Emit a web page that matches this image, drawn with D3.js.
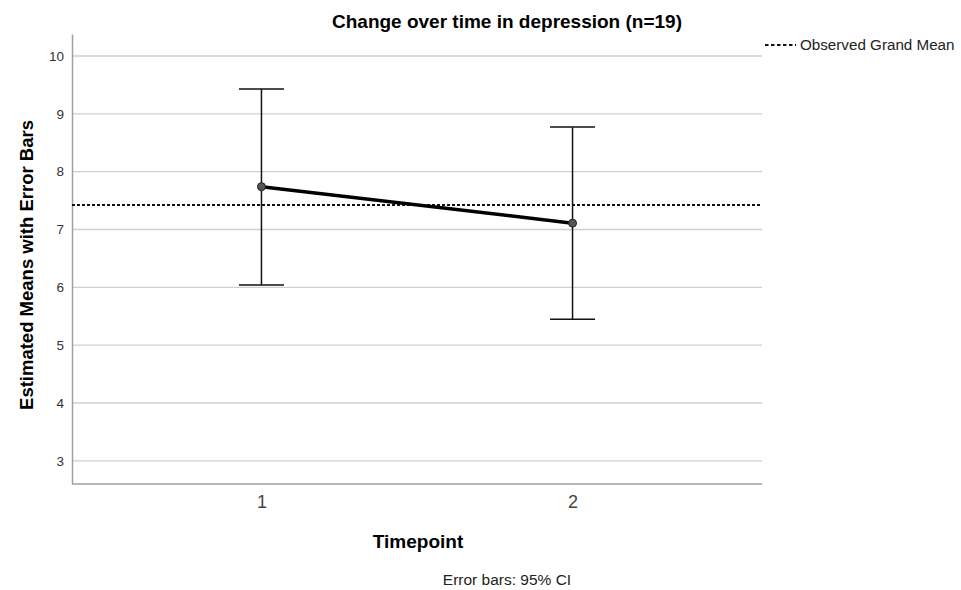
<!DOCTYPE html>
<html><head><meta charset="utf-8">
<script src="https://cdn.jsdelivr.net/npm/d3@7/dist/d3.min.js"></script>
<style>body{margin:0;background:#fff;font-family:"Liberation Sans",Arial,sans-serif;}</style>
</head><body><div id="chart"></div>
<script>
const categories = ["1", "2"];
const means = [7.74, 7.11];
const ciLower = [6.04, 5.45];
const ciUpper = [9.43, 8.77];
const grandMean = 7.425;
const yTicks = [3, 4, 5, 6, 7, 8, 9, 10];

const W = 961, H = 590;
const pLeft = 72, pRight = 762, pTop = 34, pBottom = 484;
const FF = "Liberation Sans, Arial, sans-serif";
const svg = d3.select("#chart").append("svg").attr("width", W).attr("height", H)
  .style("font-family", FF);

const y = d3.scaleLinear().domain([2.6, 10.38]).range([pBottom, pTop]);
const x = d3.scalePoint().domain(categories).range([pLeft, pRight]).padding(0.609);

// gridlines
svg.append("g").selectAll("line").data(yTicks).join("line")
  .attr("x1", pLeft).attr("x2", pRight).attr("y1", d => y(d)).attr("y2", d => y(d))
  .attr("stroke", "#cfcfcf").attr("stroke-width", 1.3);

// y axis
const ya = svg.append("g").attr("transform", `translate(${pLeft},0)`)
  .call(d3.axisLeft(y).tickValues(yTicks).tickSize(0).tickPadding(8));
ya.select(".domain").attr("stroke", "#a0a0a0").attr("stroke-width", 1.5);
ya.selectAll("text").attr("font-size", 13.5).attr("fill", "#333").attr("font-family", FF);

// x axis
const xa = svg.append("g").attr("transform", `translate(0,${pBottom})`)
  .call(d3.axisBottom(x).tickSize(0).tickPadding(11));
xa.select(".domain").attr("d", `M${pLeft},0H${pRight}`).attr("stroke", "#a0a0a0").attr("stroke-width", 1.5);
xa.selectAll("text").attr("font-size", 18).attr("fill", "#444").attr("font-family", FF);

// grand mean
svg.append("line").attr("x1", pLeft).attr("x2", pRight)
  .attr("y1", y(grandMean)).attr("y2", y(grandMean))
  .attr("stroke", "#111").attr("stroke-width", 2).attr("stroke-dasharray", "3,2");

// error bars
const data = categories.map((c, i) => ({c, m: means[i], lo: ciLower[i], hi: ciUpper[i]}));
const eb = svg.append("g").attr("stroke", "#111").attr("stroke-width", 1.5);
eb.selectAll(".v").data(data).join("line")
  .attr("x1", d => x(d.c)).attr("x2", d => x(d.c)).attr("y1", d => y(d.lo)).attr("y2", d => y(d.hi));
eb.selectAll(".t").data(data).join("line")
  .attr("x1", d => x(d.c) - 22.5).attr("x2", d => x(d.c) + 22.5).attr("y1", d => y(d.hi)).attr("y2", d => y(d.hi));
eb.selectAll(".b").data(data).join("line")
  .attr("x1", d => x(d.c) - 22.5).attr("x2", d => x(d.c) + 22.5).attr("y1", d => y(d.lo)).attr("y2", d => y(d.lo));

// line
svg.append("path").datum(data)
  .attr("d", d3.line().x(d => x(d.c)).y(d => y(d.m)))
  .attr("fill", "none").attr("stroke", "#000").attr("stroke-width", 3.5);
svg.selectAll(".pt").data(data).join("circle")
  .attr("cx", d => x(d.c)).attr("cy", d => y(d.m)).attr("r", 4)
  .attr("fill", "#555").attr("stroke", "#222").attr("stroke-width", 1);

// texts
svg.append("text").attr("x", 507).attr("y", 28).attr("text-anchor", "middle")
  .attr("font-size", 19).attr("font-weight", "bold").attr("fill", "#000")
  .text("Change over time in depression (n=19)");
svg.append("text").attr("transform", "translate(33,265) rotate(-90)").attr("text-anchor", "middle")
  .attr("font-size", 18.5).attr("font-weight", "bold").attr("fill", "#000")
  .text("Estimated Means with Error Bars");
svg.append("text").attr("x", 418).attr("y", 548).attr("text-anchor", "middle")
  .attr("font-size", 19).attr("font-weight", "bold").attr("fill", "#000")
  .text("Timepoint");
svg.append("text").attr("x", 507).attr("y", 585).attr("text-anchor", "middle")
  .attr("font-size", 15.5).attr("fill", "#222")
  .text("Error bars: 95% CI");

// legend
svg.append("line").attr("x1", 765).attr("x2", 796).attr("y1", 45).attr("y2", 45)
  .attr("stroke", "#111").attr("stroke-width", 2).attr("stroke-dasharray", "3.5,2.5");
svg.append("text").attr("x", 800).attr("y", 50).attr("font-size", 15.2).attr("fill", "#222")
  .text("Observed Grand Mean");
</script></body></html>
